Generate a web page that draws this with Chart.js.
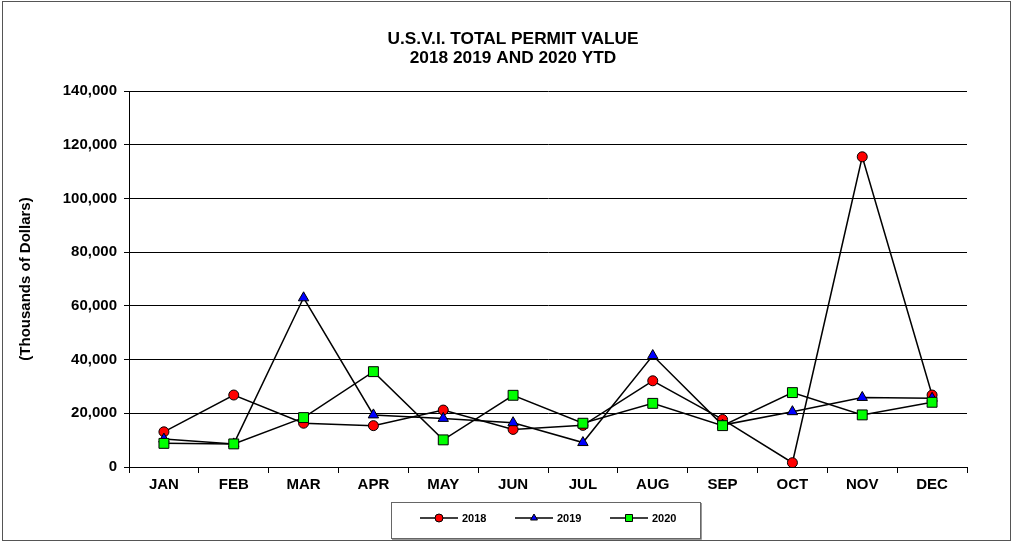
<!DOCTYPE html>
<html>
<head>
<meta charset="utf-8">
<title>U.S.V.I. Total Permit Value</title>
<script src="https://cdn.jsdelivr.net/npm/chart.js@4.4.1/dist/chart.umd.min.js"></script>
<style>
  body { margin: 0; background: #fff; }
  canvas { display: block; }
</style>
</head>
<body>
<canvas id="permitChart" width="1013" height="542"></canvas>
<script>
// values in thousands of dollars
const months = ['JAN', 'FEB', 'MAR', 'APR', 'MAY', 'JUN', 'JUL', 'AUG', 'SEP', 'OCT', 'NOV', 'DEC']
const v2018 = [13100, 26800, 16300, 15400, 21200, 14000, 15500, 32100, 17700, 1600, 115500, 26800]
const v2019 = [10400, 8600, 63000, 19400, 18100, 16500, 9100, 41500, 15600, 20600, 25900, 25600]
const v2020 = [8800, 8600, 18400, 35500, 10100, 26700, 16300, 23700, 15400, 27700, 19400, 24100]
const yTicks = [0, 20000, 40000, 60000, 80000, 100000, 120000, 140000]
const titleLines = ['U.S.V.I. TOTAL PERMIT VALUE', '2018 2019 AND 2020 YTD']

Chart.defaults.font.family = "'Liberation Sans', Arial, sans-serif"
Chart.defaults.color = '#000'

const legendItems = [
    { label: '2018', style: 'circle', fill: '#ff0000' },
    { label: '2019', style: 'triangle', fill: '#0000ff' },
    { label: '2020', style: 'rect', fill: '#00ff00' }
]

function marker(ctx, style, x, y, r) {
    ctx.beginPath()
    if (style === 'circle') {
        ctx.arc(x, y, r, 0, Math.PI * 2)
    } else if (style === 'triangle') {
        ctx.moveTo(x, y - r)
        ctx.lineTo(x + r * 0.866, y + r * 0.5)
        ctx.lineTo(x - r * 0.866, y + r * 0.5)
        ctx.closePath()
    } else {
        ctx.rect(x - r, y - r, r * 2, r * 2)
    }
    ctx.fill()
    ctx.stroke()
}

// title, outer frame + boxed legend like the spreadsheet chart
// (title drawn here so it centres on the whole page, not the padded box)
const framePlugin = {
    id: 'frame',
    afterDraw(chart) {
        const ctx = chart.ctx
        ctx.save()
        ctx.strokeStyle = '#555'
        ctx.lineWidth = 1
        ctx.strokeRect(2.5, 1.5, 1008, 539)

        ctx.fillStyle = '#000'
        ctx.textAlign = 'center'
        ctx.textBaseline = 'middle'
        ctx.font = "bold 17.3px 'Liberation Sans', Arial, sans-serif"
        ctx.fillText(titleLines[0], 513, 39)
        ctx.fillText(titleLines[1], 513, 58.5)

        // legend box
        ctx.strokeStyle = '#666'
        ctx.strokeRect(391.5, 502.5, 309, 36)
        ctx.strokeStyle = '#999'
        ctx.beginPath()
        ctx.moveTo(392, 539.5); ctx.lineTo(701.5, 539.5); ctx.lineTo(701.5, 503)
        ctx.stroke()

        const starts = [420, 515, 610]
        const ly = 518
        ctx.textAlign = 'left'
        ctx.font = "bold 11px 'Liberation Sans', Arial, sans-serif"
        legendItems.forEach((it, i) => {
            const x0 = starts[i]
            ctx.strokeStyle = '#000'
            ctx.lineWidth = 1.5
            ctx.beginPath()
            ctx.moveTo(x0, ly); ctx.lineTo(x0 + 38, ly)
            ctx.stroke()
            ctx.lineWidth = 1
            ctx.fillStyle = it.fill
            marker(ctx, it.style, x0 + 19, ly, it.style === 'rect' ? 3.5 : 4)
            ctx.fillStyle = '#000'
            ctx.fillText(it.label, x0 + 42, ly + 1)
        })
        ctx.restore()
    }
}

function lineSet(label, data, style, fill, radius, order) {
    return {
        label: label,
        data: data,
        borderColor: '#000',
        borderWidth: 1.5,
        pointStyle: style,
        pointRadius: radius,
        pointBackgroundColor: fill,
        pointBorderColor: '#000',
        pointBorderWidth: 1,
        lineTension: 0,
        fill: false,
        order: order
    }
}

const tickFont = { size: 15, weight: 'bold' }

new Chart(document.getElementById('permitChart'), {
    type: 'line',
    data: {
        labels: months,
        datasets: [
            lineSet('2018', v2018, 'circle', '#ff0000', 5, 2),
            lineSet('2019', v2019, 'triangle', '#0000ff', 6, 1),
            lineSet('2020', v2020, 'rect', '#00ff00', 7, 0)
        ]
    },
    options: {
        responsive: false,
        animation: false,
        events: [],
        layout: { padding: { left: 13, right: 46, top: 91, bottom: 0 } },
        plugins: {
            legend: { display: false },
            tooltip: { enabled: false },
            title: { display: false }
        },
        scales: {
            x: {
                offset: true,
                grid: { offset: true, drawOnChartArea: false, color: '#000', tickLength: 6 },
                border: { color: '#000' },
                ticks: { font: tickFont, color: '#000', padding: 3, maxRotation: 0 },
                afterFit: s => { s.height = 75 }
            },
            y: {
                min: 0,
                max: 140000,
                afterBuildTicks: s => { s.ticks = yTicks.map(v => ({ value: v })) },
                ticks: {
                    font: tickFont,
                    color: '#000',
                    padding: 7,
                    callback: v => v.toLocaleString('en-US')
                },
                grid: { color: '#000', tickLength: 5 },
                border: { color: '#000' },
                title: {
                    display: true,
                    text: '(Thousands of Dollars)',
                    color: '#000',
                    font: { size: 15, weight: 'bold' },
                    padding: 4
                },
                afterFit: s => { s.width = 116 }
            }
        }
    },
    plugins: [framePlugin]
})
</script>
</body>
</html>
